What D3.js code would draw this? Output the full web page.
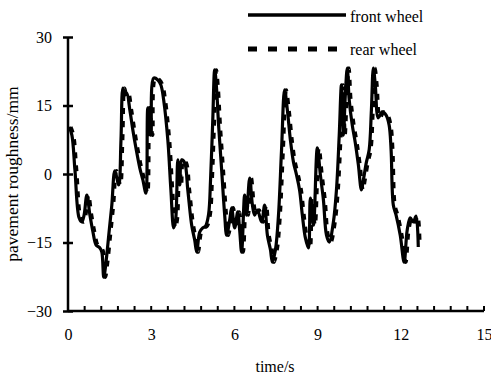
<!DOCTYPE html>
<html>
<head>
<meta charset="utf-8">
<script src="https://cdn.jsdelivr.net/npm/d3@7"></script>
<style>
  body { margin: 0; background: #fff; }
  svg text { font-family: "Liberation Serif", "DejaVu Serif", serif; fill: #000; }
</style>
</head>
<body>
<div id="chart"></div>
<script>
// time (s), pavement roughness (mm)
const frontWheel = [
  [0.04, 10.3], [0.14, 8.5], [0.25, 0.9], [0.40, -9.6], [0.50, -10.5], [0.58, -9.0], [0.68, -4.6],
  [0.79, -9.0], [0.90, -12.7], [1.01, -15.5], [1.15, -16.2], [1.22, -17.1], [1.29, -22.6], [1.37, -19.3],
  [1.47, -13.4], [1.58, -6.8], [1.69, 0.7], [1.83, -2.4], [1.91, 7.4], [1.98, 18.8], [2.05, 17.3],
  [2.12, 17.7], [2.23, 14.0], [2.34, 9.6], [2.45, 5.7], [2.59, 1.3], [2.70, -1.3], [2.81, -4.2],
  [2.88, 14.5], [2.99, 8.5], [3.09, 21.0], [3.24, 20.6], [3.35, 19.5], [3.45, 16.2], [3.60, 7.4],
  [3.71, -3.5], [3.81, -11.8], [3.88, -10.1], [3.96, 3.1], [4.03, -2.4], [4.10, 3.1], [4.21, 2.4],
  [4.32, -3.5], [4.46, -11.2], [4.57, -14.5], [4.64, -17.1], [4.75, -12.7], [4.86, -11.8], [4.96, -11.4],
  [5.07, -8.8], [5.14, -1.3], [5.22, 11.8], [5.29, 22.8], [5.36, 18.4], [5.43, 10.7], [5.54, 0.9],
  [5.65, -9.0], [5.72, -13.4], [5.83, -10.1], [5.90, -7.4], [6.01, -11.8], [6.12, -8.3], [6.19, -12.3],
  [6.26, -17.1], [6.37, -4.6], [6.44, -9.0], [6.55, -0.9], [6.65, -6.8], [6.73, -9.0], [6.83, -7.9],
  [6.98, -10.5], [7.09, -6.8], [7.19, -13.4], [7.30, -16.6], [7.37, -19.3], [7.48, -16.6], [7.59, -9.0],
  [7.70, 5.3], [7.81, 18.4], [7.91, 14.0], [8.02, 7.4], [8.13, 2.6], [8.24, -0.2], [8.35, -3.5],
  [8.45, -9.0], [8.56, -14.0], [8.67, -16.2], [8.74, -5.3], [8.85, -11.2], [8.99, 5.7], [9.10, -0.2],
  [9.21, -5.7], [9.32, -13.4], [9.42, -14.9], [9.57, -10.5], [9.68, -3.5], [9.78, 8.5], [9.86, 19.5],
  [9.93, 8.5], [10.00, 17.3], [10.07, 23.2], [10.14, 16.2], [10.25, 10.7], [10.36, 6.8], [10.47, 2.0],
  [10.58, -3.5], [10.65, -1.3], [10.76, 2.6], [10.86, 5.3], [10.94, 14.0], [11.01, 23.2], [11.08, 19.5],
  [11.19, 12.3], [11.33, 13.6], [11.47, 12.9], [11.58, 10.7], [11.65, 5.3], [11.73, -6.8], [11.83, -9.0],
  [11.98, -13.4], [12.12, -19.3], [12.23, -12.3], [12.34, -9.6], [12.45, -10.5], [12.55, -9.2], [12.63, -16.0]
];

const rearWheel = [
  [0.10, 10.3], [0.20, 8.5], [0.31, 0.9], [0.46, -9.6], [0.56, -10.5], [0.64, -9.0], [0.74, -4.6],
  [0.85, -9.0], [0.96, -12.7], [1.07, -15.5], [1.21, -16.2], [1.28, -17.1], [1.35, -22.6], [1.43, -19.3],
  [1.53, -13.4], [1.64, -6.8], [1.75, 0.7], [1.89, -2.4], [1.97, 7.4], [2.04, 18.8], [2.11, 17.3],
  [2.18, 17.7], [2.29, 14.0], [2.40, 9.6], [2.51, 5.7], [2.65, 1.3], [2.76, -1.3], [2.87, -4.2],
  [2.94, 14.5], [3.05, 8.5], [3.15, 21.0], [3.30, 20.6], [3.41, 19.5], [3.51, 16.2], [3.66, 7.4],
  [3.77, -3.5], [3.87, -11.8], [3.94, -10.1], [4.02, 3.1], [4.09, -2.4], [4.16, 3.1], [4.27, 2.4],
  [4.38, -3.5], [4.52, -11.2], [4.63, -14.5], [4.70, -17.1], [4.81, -12.7], [4.92, -11.8], [5.02, -11.4],
  [5.13, -8.8], [5.20, -1.3], [5.28, 11.8], [5.35, 22.8], [5.42, 18.4], [5.49, 10.7], [5.60, 0.9],
  [5.71, -9.0], [5.78, -13.4], [5.89, -10.1], [5.96, -7.4], [6.07, -11.8], [6.18, -8.3], [6.25, -12.3],
  [6.32, -17.1], [6.43, -4.6], [6.50, -9.0], [6.61, -0.9], [6.71, -6.8], [6.79, -9.0], [6.89, -7.9],
  [7.04, -10.5], [7.15, -6.8], [7.25, -13.4], [7.36, -16.6], [7.43, -19.3], [7.54, -16.6], [7.65, -9.0],
  [7.76, 5.3], [7.87, 18.4], [7.97, 14.0], [8.08, 7.4], [8.19, 2.6], [8.30, -0.2], [8.41, -3.5],
  [8.51, -9.0], [8.62, -14.0], [8.73, -16.2], [8.80, -5.3], [8.91, -11.2], [9.05, 5.7], [9.16, -0.2],
  [9.27, -5.7], [9.38, -13.4], [9.48, -14.9], [9.63, -10.5], [9.74, -3.5], [9.84, 8.5], [9.92, 19.5],
  [9.99, 8.5], [10.06, 17.3], [10.13, 23.2], [10.20, 16.2], [10.31, 10.7], [10.42, 6.8], [10.53, 2.0],
  [10.64, -3.5], [10.71, -1.3], [10.82, 2.6], [10.92, 5.3], [11.00, 14.0], [11.07, 23.2], [11.14, 19.5],
  [11.25, 12.3], [11.39, 13.6], [11.53, 12.9], [11.64, 10.7], [11.71, 5.3], [11.79, -6.8], [11.89, -9.0],
  [12.04, -13.4], [12.18, -19.3], [12.29, -12.3], [12.40, -9.6], [12.51, -10.5], [12.61, -9.2], [12.69, -16.0]
];

const xTicks = [0, 3, 6, 9, 12, 15];
const xMinorTicks = d3.range(0, 15.01, 0.6);
const yTicks = [-30, -15, 0, 15, 30];
const seriesNames = ['front wheel', 'rear wheel'];

const width = 491, height = 375;
const margin = { top: 37, right: 7, bottom: 64, left: 68 };
const serif = '"Liberation Serif", "DejaVu Serif", serif';

const svg = d3.select('#chart')
  .append('svg')
  .attr('width', width)
  .attr('height', height)
  .style('background', '#fff');

const x = d3.scaleLinear().domain([0, 15]).range([margin.left, width - margin.right]);
const y = d3.scaleLinear().domain([-30, 30]).range([height - margin.bottom, margin.top]);

const line = d3.line()
  .x(d => x(d[0]))
  .y(d => y(d[1]))
  .curve(d3.curveCatmullRom.alpha(0.5));

// series
svg.append('path')
  .datum(frontWheel)
  .attr('d', line)
  .attr('fill', 'none')
  .attr('stroke', '#000')
  .attr('stroke-width', 3.2)
  .attr('stroke-linejoin', 'round');

svg.append('path')
  .datum(rearWheel)
  .attr('d', line)
  .attr('fill', 'none')
  .attr('stroke', '#000')
  .attr('stroke-width', 3.5)
  .attr('stroke-dasharray', '6,7');

// y axis
const yAxis = svg.append('g')
  .attr('transform', `translate(${margin.left},0)`)
  .call(d3.axisLeft(y).tickValues(yTicks).tickSize(5).tickPadding(11).tickFormat(d3.format('d')));
yAxis.attr('font-family', serif);
yAxis.select('.domain').attr('stroke-width', 2.5).attr('d', `M0,${y(-30)}V${y(30)}`);
yAxis.selectAll('.tick line').attr('x1', -5).attr('x2', 5).attr('stroke-width', 2.5);
yAxis.selectAll('.tick text').style('font-size', '16px').style('font-family', serif);

// x axis
const xAxis = svg.append('g')
  .attr('transform', `translate(0,${y(-30)})`)
  .call(d3.axisBottom(x).tickValues(xTicks).tickSize(0).tickPadding(18).tickFormat(d3.format('d')));
xAxis.attr('font-family', serif);
xAxis.select('.domain').attr('stroke-width', 2.5).attr('d', `M${x(0)},0H${x(15)}`);
xAxis.selectAll('.tick text').style('font-size', '16px').style('font-family', serif);

svg.append('g')
  .selectAll('line')
  .data(xMinorTicks)
  .join('line')
  .attr('x1', d => x(d))
  .attr('x2', d => x(d))
  .attr('y1', y(-30))
  .attr('y2', y(-30) - 5)
  .attr('stroke', '#000')
  .attr('stroke-width', 2);

// axis titles
svg.append('text')
  .attr('x', x(7.5) - 1)
  .attr('y', 372)
  .attr('text-anchor', 'middle')
  .style('font-size', '16px')
  .style('font-family', serif)
  .text('time/s');

svg.append('text')
  .attr('transform', `translate(18,${y(0)}) rotate(-90)`)
  .attr('text-anchor', 'middle')
  .style('font-size', '17.5px')
  .style('font-family', serif)
  .text('pavement roughness/mm');

// legend
const legend = svg.append('g');
legend.append('line')
  .attr('x1', 248).attr('x2', 346).attr('y1', 15).attr('y2', 15)
  .attr('stroke', '#000').attr('stroke-width', 3.5);
legend.append('line')
  .attr('x1', 248).attr('x2', 338).attr('y1', 49).attr('y2', 49)
  .attr('stroke', '#000').attr('stroke-width', 5).attr('stroke-dasharray', '9,11');
legend.selectAll('text')
  .data(seriesNames)
  .join('text')
  .attr('x', 350)
  .attr('y', (d, i) => 22 + i * 33)
  .style('font-size', '16px')
  .style('font-family', serif)
  .text(d => d);
</script>
</body>
</html>
